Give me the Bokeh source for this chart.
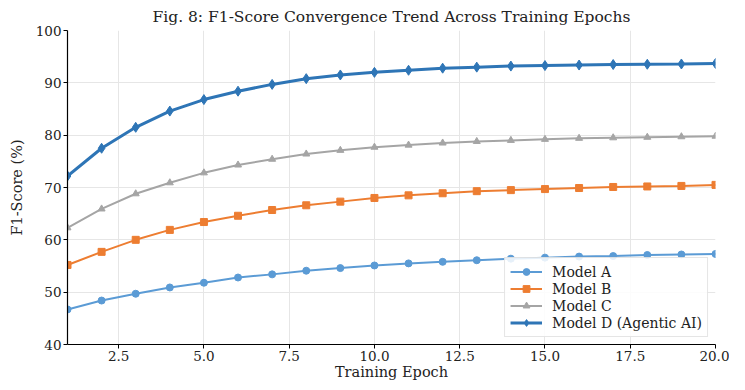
from bokeh.plotting import figure
from bokeh.models import Range1d, FixedTicker, NumeralTickFormatter
from bokeh.embed import file_html
from bokeh.resources import INLINE

epochs = list(range(1, 21))
model_a = [46.7, 48.4, 49.7, 50.9, 51.8, 52.8, 53.4, 54.1, 54.6, 55.1,
           55.5, 55.8, 56.1, 56.4, 56.6, 56.8, 56.9, 57.1, 57.2, 57.3]
model_b = [55.2, 57.7, 60.0, 61.9, 63.4, 64.6, 65.7, 66.6, 67.3, 68.0,
           68.5, 68.9, 69.3, 69.5, 69.7, 69.9, 70.1, 70.2, 70.3, 70.5]
model_c = [62.3, 65.9, 68.8, 70.9, 72.8, 74.3, 75.4, 76.4, 77.1, 77.7,
           78.1, 78.5, 78.8, 79.0, 79.2, 79.4, 79.5, 79.6, 79.7, 79.8]
model_d = [72.2, 77.5, 81.5, 84.6, 86.8, 88.4, 89.7, 90.8, 91.5, 92.0,
           92.4, 92.8, 93.0, 93.2, 93.3, 93.4, 93.5, 93.55, 93.6, 93.7]
labels = ["Model A", "Model B", "Model C", "Model D (Agentic AI)"]
x_ticks = [2.5, 5.0, 7.5, 10.0, 12.5, 15.0, 17.5, 20.0]
y_ticks = [40, 50, 60, 70, 80, 90, 100]

FONT = "DejaVu Serif"

p = figure(width=729, height=382, output_backend="svg", toolbar_location=None,
           x_range=Range1d(1, 20), y_range=Range1d(40, 100),
           title="Fig. 8: F1-Score Convergence Trend Across Training Epochs",
           min_border_left=67, min_border_right=14, min_border_top=28,
           min_border_bottom=30)
p.title.align = "center"
p.title.text_font = FONT
p.title.text_font_size = "15.5px"
p.title.text_font_style = "normal"
p.title.text_color = "#222222"
p.title.offset = 0

p.outline_line_color = None
p.background_fill_color = "white"

for ax in (p.xaxis, p.yaxis):
    ax.axis_line_color = "black"
    ax.axis_line_width = 1.2
    ax.major_tick_line_color = "black"
    ax.major_tick_out = 4
    ax.major_tick_in = 0
    ax.minor_tick_line_color = None
    ax.major_label_text_font = FONT
    ax.major_label_text_font_size = "13.5px"
    ax.major_label_text_color = "#222222"
    ax.major_label_standoff = 2
    ax.axis_label_text_font = FONT
    ax.axis_label_text_font_size = "14.5px"
    ax.axis_label_text_font_style = "normal"
    ax.axis_label_text_color = "#222222"

p.xaxis.ticker = FixedTicker(ticks=x_ticks)
p.xaxis.formatter = NumeralTickFormatter(format="0.0")
p.yaxis.ticker = FixedTicker(ticks=y_ticks)
p.xaxis.axis_label = "Training Epoch"
p.yaxis.axis_label = "F1-Score (%)"
p.xaxis.axis_label_standoff = 0
p.yaxis.axis_label_standoff = 8

p.xgrid.grid_line_color = "#e6e6e6"
p.ygrid.grid_line_color = "#e6e6e6"

series = [
    (model_a, "#5b9bd5", "circle", 7, 2, labels[0]),
    (model_b, "#ed7d31", "square", 7, 2, labels[1]),
    (model_c, "#a5a5a5", "triangle", 7, 2, labels[2]),
    (model_d, "#2e75b6", "diamond", 10, 3, labels[3]),
]
for ys, col, mk, sz, lw, lab in series:
    p.line(epochs, ys, line_color=col, line_width=lw, legend_label=lab)
    p.scatter(epochs, ys, marker=mk, size=sz, fill_color=col, line_color=col,
              legend_label=lab)

lg = p.legend[0]
lg.location = "bottom_right"
lg.margin = 7
lg.label_text_font = FONT
lg.label_text_font_size = "14px"
lg.label_text_color = "#222222"
lg.border_line_color = "#cccccc"
lg.border_line_width = 1
lg.background_fill_alpha = 0.85
lg.spacing = 0
lg.glyph_height = 17
lg.label_height = 17
lg.glyph_width = 32
lg.padding = 5
lg.label_standoff = 10

open("out.html", "w").write(file_html(p, INLINE))
